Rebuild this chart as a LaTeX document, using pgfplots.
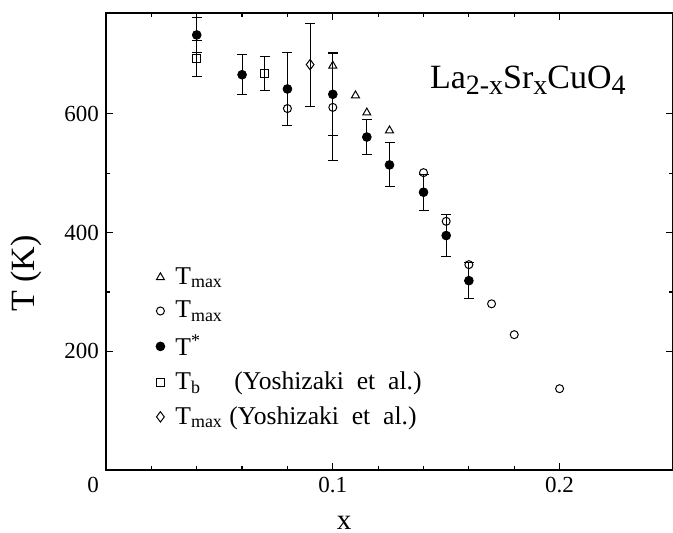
\documentclass[border=0pt]{standalone}
\usepackage{fontspec}
\setmainfont{Liberation Serif}
\usepackage{pgfplots}
\pgfplotsset{compat=1.18}
\newcommand{\sub}[1]{\raisebox{-0.35ex}{\fontsize{14}{15}\selectfont #1}}
\begin{document}
\begin{tikzpicture}
\useasboundingbox (-53pt,-31.5pt) rectangle (283.5pt,235pt);
\begin{axis}[
  scale only axis,
  width=283.5pt, height=228.5pt,
  at={(0,0)}, anchor=south west,
  clip=false,
  xmin=0, xmax=0.25, ymin=0, ymax=770,
  xtick={0,0.1,0.2},
  xticklabels={\makebox[0pt][r]{0\hspace{3.5pt}},0.1,0.2},
  minor x tick num=4,
  ytick={200,400,600},
  minor y tick num=1,
  tick align=inside,
  major tick length=3.5pt, minor tick length=2pt,
  tick style={black, line width=0.6pt},
  axis line style={line width=0.8pt},
  /pgf/number format/assume math mode=true,
  ticklabel style={font=\fontsize{11.5}{13}\selectfont},
  legend style={draw=none, fill=none, at={(0.084,0.457)}, anchor=north west,
    font=\fontsize{12.8}{15}\selectfont, row sep=2.9pt, inner sep=1pt},
  legend cell align=left,
  legend image code/.code={\draw[#1] plot coordinates {(0.15cm,0cm)};
    \path[draw=none, fill=none] (0.15cm,0cm) -- ++(5.5pt,0pt);},
  error bars/error mark options={rotate=90, mark size=2.5pt, line width=0.5pt},
  error bars/error bar style={line width=0.5pt},
]
% T_max (triangles)
\addplot[only marks, mark=triangle, mark size=2.3pt, black, mark options={fill=white, line width=0.5pt}]
  coordinates {(0.10,681) (0.11,631) (0.115,602) (0.125,572)};
\addlegendentry{T\textsubscript{max}}
% T_max (open circles)
\addplot[only marks, mark=o, mark size=2pt, black, mark options={fill=white, line width=0.5pt},
  error bars/.cd, y dir=both, y explicit]
  coordinates {(0.08,609) (0.10,611) +- (0,90) (0.14,501) (0.15,419) (0.16,346)
               (0.17,280) (0.18,228) (0.20,137)};
\addlegendentry{T\textsubscript{max}}
% T* (filled circles)
\addplot[only marks, mark=*, mark size=2.2pt, black,
  error bars/.cd, y dir=both, y explicit]
  coordinates {(0.04,733) +- (0,30) (0.06,666) +- (0,34) (0.08,642) +- (0,61)
               (0.10,633) +- (0,70) (0.115,561) +- (0,30) (0.125,514) +- (0,37)
               (0.14,468) +- (0,30) (0.15,395) +- (0,35) (0.16,319) +- (0,30)};
\addlegendentry{T\textsuperscript{*}}
% T_b (Yoshizaki et al.)
\addplot[only marks, mark=square, mark size=2.1pt, black, mark options={fill=white, line width=0.5pt},
  error bars/.cd, y dir=both, y explicit]
  coordinates {(0.04,693) +- (0,30) (0.07,668) +- (0,29)};
\addlegendentry{T\textsubscript{b}\hspace{1.3em}(Yoshizaki\ \ et\ \ al.)}
% T_max (Yoshizaki et al.)
\addplot[only marks, mark=diamond, mark size=2.6pt, black, mark options={fill=white, line width=0.5pt},
  error bars/.cd, y dir=both, y explicit]
  coordinates {(0.09,683) +- (0,70)};
\addlegendentry{T\textsubscript{max} (Yoshizaki\ \ et\ \ al.)}

\node[font=\fontsize{17}{19}\selectfont] at (rel axis cs:0.744,0.853)
  {La\sub{2-x}Sr\sub{x}CuO\sub{4}};
\node[font=\fontsize{14.5}{16}\selectfont, inner sep=0pt] at ([yshift=-26.5pt]rel axis cs:0.42,0) {x};
\node[font=\fontsize{17}{20}\selectfont, rotate=90, inner sep=0pt] at ([xshift=-40pt]rel axis cs:0,0.43) {T (K)};
\end{axis}
\end{tikzpicture}
\end{document}
